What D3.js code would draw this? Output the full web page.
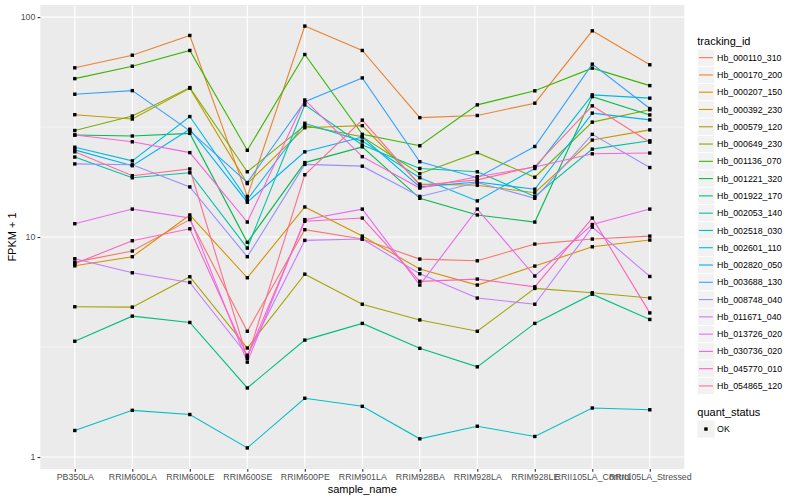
<!DOCTYPE html>
<html>
<head>
<meta charset="utf-8">
<script src="https://cdn.jsdelivr.net/npm/d3@7"></script>
<style>
  body { margin: 0; background: #fff; }
  text { font-family: "Liberation Sans", Arial, Helvetica, sans-serif; }
</style>
</head>
<body>
<svg id="chart" width="800" height="500"></svg>
<script>
// categories
const samples = ["PB350LA", "RRIM600LA", "RRIM600LE", "RRIM600SE", "RRIM600PE", "RRIM901LA",
  "RRIM928BA", "RRIM928LA", "RRIM928LE", "RRII105LA_Control", "RRII105LA_Stressed"];

const trackingIds = ["Hb_000110_310", "Hb_000170_200", "Hb_000207_150", "Hb_000392_230",
  "Hb_000579_120", "Hb_000649_230", "Hb_001136_070", "Hb_001221_320", "Hb_001922_170",
  "Hb_002053_140", "Hb_002518_030", "Hb_002601_110", "Hb_002820_050", "Hb_003688_130",
  "Hb_008748_040", "Hb_011671_040", "Hb_013726_020", "Hb_030736_020", "Hb_045770_010",
  "Hb_054865_120"];

// FPKM + 1 per sample
const hb_000110_310 = [7.69, 8.64, 12.0, 3.73, 10.8, 9.79, 7.94, 7.80, 9.29, 9.79, 10.1];
const hb_000170_200 = [58.8, 67.1, 82.5, 15.3, 91.0, 70.5, 34.9, 35.7, 40.6, 86.6, 60.7];
const hb_000207_150 = [7.40, 8.14, 12.6, 6.53, 13.7, 10.1, 7.15, 6.05, 7.38, 9.03, 9.69];
const hb_000392_230 = [36.0, 34.4, 47.5, 17.5, 31.4, 32.1, 17.4, 17.2, 15.9, 27.6, 30.7];
const hb_000579_120 = [4.82, 4.80, 6.60, 3.13, 6.78, 4.95, 4.20, 3.73, 5.84, 5.58, 5.28];
const hb_000649_230 = [30.5, 35.5, 47.8, 19.8, 32.1, 28.6, 19.4, 24.2, 18.7, 33.3, 37.9];
const hb_001136_070 = [52.5, 59.8, 70.5, 24.8, 67.6, 29.3, 26.0, 39.9, 46.2, 58.6, 48.8];
const hb_001221_320 = [29.1, 28.8, 29.6, 9.46, 21.8, 25.7, 15.0, 12.6, 11.7, 43.5, 35.9];
const hb_001922_170 = [3.36, 4.37, 4.09, 2.06, 3.40, 4.05, 3.12, 2.57, 4.05, 5.50, 4.22];
const hb_002053_140 = [23.1, 18.6, 19.6, 8.91, 39.9, 26.2, 20.5, 19.8, 15.3, 25.1, 27.4];
const hb_002518_030 = [1.32, 1.63, 1.56, 1.10, 1.85, 1.70, 1.21, 1.38, 1.24, 1.67, 1.64];
const hb_002601_110 = [25.6, 22.2, 35.3, 14.8, 32.9, 27.3, 18.6, 14.6, 20.5, 44.3, 42.8];
const hb_002820_050 = [24.9, 21.1, 30.9, 14.4, 24.4, 28.5, 16.9, 17.8, 16.5, 36.6, 34.1];
const hb_003688_130 = [44.6, 46.3, 30.4, 17.7, 41.2, 52.9, 22.0, 18.6, 25.8, 61.1, 38.4];
const hb_008748_040 = [21.5, 21.3, 16.9, 8.14, 21.4, 21.0, 15.3, 17.7, 15.0, 29.3, 20.7];
const hb_011671_040 = [7.97, 6.88, 6.22, 2.90, 9.66, 9.79, 6.81, 5.28, 4.95, 11.1, 6.62];
const hb_013726_020 = [11.5, 13.4, 12.2, 2.70, 12.0, 13.4, 6.05, 13.4, 6.65, 11.4, 13.4];
const hb_030736_020 = [29.1, 27.1, 24.2, 11.7, 42.0, 23.2, 16.7, 18.8, 20.8, 23.9, 24.1];
const hb_045770_010 = [7.57, 9.62, 10.9, 2.87, 11.8, 12.2, 6.29, 6.44, 5.94, 12.2, 4.52];
const hb_054865_120 = [24.4, 19.0, 20.4, 2.81, 19.2, 34.0, 17.2, 18.2, 20.9, 39.5, 27.0];

const seriesValues = [hb_000110_310, hb_000170_200, hb_000207_150, hb_000392_230,
  hb_000579_120, hb_000649_230, hb_001136_070, hb_001221_320, hb_001922_170,
  hb_002053_140, hb_002518_030, hb_002601_110, hb_002820_050, hb_003688_130,
  hb_008748_040, hb_011671_040, hb_013726_020, hb_030736_020, hb_045770_010,
  hb_054865_120];

const yTicks = [1, 10, 100];
const yMinor = [Math.sqrt(10), Math.sqrt(1000)];
const quantLevels = ["OK"];

// ggplot default hue palette for 20 levels
const palette = ["#F8766D", "#EA8331", "#D89000", "#C09B00", "#A3A500", "#7CAE00", "#39B600",
  "#00BB4E", "#00BF7D", "#00C1A3", "#00BFC4", "#00BAE0", "#00B0F6", "#35A2FF", "#9590FF",
  "#C77CFF", "#E76BF3", "#FA62DB", "#FF62BC", "#FF6C91"];

const panel = { left: 40.3, right: 684.3, top: 5, bottom: 469 };

const svg = d3.select("#chart");

const color = d3.scaleOrdinal().domain(trackingIds).range(palette);

const x = d3.scalePoint()
  .domain(samples)
  .range([panel.left, panel.right])
  .padding(0.6);

// log scale with ggplot's 5% expansion in log space
const allVals = seriesValues.flat();
const lo = Math.log10(d3.min(allVals)), hi = Math.log10(d3.max(allVals));
const ex = (hi - lo) * 0.05;
const y = d3.scaleLog()
  .domain([Math.pow(10, lo - ex), Math.pow(10, hi + ex)])
  .range([panel.bottom, panel.top]);

// panel background
svg.append("rect")
  .attr("x", panel.left).attr("y", panel.top)
  .attr("width", panel.right - panel.left)
  .attr("height", panel.bottom - panel.top)
  .attr("fill", "#EBEBEB");

const grid = svg.append("g");
grid.selectAll(".minor").data(yMinor).join("line")
  .attr("x1", panel.left).attr("x2", panel.right)
  .attr("y1", d => y(d)).attr("y2", d => y(d))
  .attr("stroke", "#fff").attr("stroke-width", 0.55);
grid.selectAll(".hmajor").data(yTicks).join("line")
  .attr("x1", panel.left).attr("x2", panel.right)
  .attr("y1", d => y(d)).attr("y2", d => y(d))
  .attr("stroke", "#fff").attr("stroke-width", 1.1);
grid.selectAll(".vmajor").data(samples).join("line")
  .attr("x1", d => x(d)).attr("x2", d => x(d))
  .attr("y1", panel.top).attr("y2", panel.bottom)
  .attr("stroke", "#fff").attr("stroke-width", 1.1);

// lines
const line = d3.line()
  .x((d, i) => x(samples[i]))
  .y(d => y(d));

svg.append("g").selectAll("path")
  .data(seriesValues)
  .join("path")
  .attr("d", line)
  .attr("fill", "none")
  .attr("stroke", (d, i) => color(trackingIds[i]))
  .attr("stroke-width", 1.1);

// points
const pts = [];
seriesValues.forEach(s => s.forEach((v, i) => pts.push({ s: samples[i], v })));
svg.append("g").selectAll("rect")
  .data(pts)
  .join("rect")
  .attr("x", d => x(d.s) - 1.7)
  .attr("y", d => y(d.v) - 1.7)
  .attr("width", 3.4).attr("height", 3.4)
  .attr("fill", "#000");

// axes
const xAxis = d3.axisBottom(x).tickSize(2.75).tickPadding(2.2);
const xAxisG = svg.append("g")
  .attr("transform", `translate(0,${panel.bottom})`)
  .call(xAxis);

const yAxis = d3.axisLeft(y).tickValues(yTicks).tickFormat(d3.format("d"))
  .tickSize(2.75).tickPadding(2.2);
const yAxisG = svg.append("g")
  .attr("transform", `translate(${panel.left},0)`)
  .call(yAxis);

[xAxisG, yAxisG].forEach(g => {
  g.select(".domain").remove();
  g.selectAll(".tick line").attr("stroke", "#333333").attr("stroke-width", 1.1);
  g.selectAll(".tick text").attr("fill", "#4D4D4D").style("font-size", "8.8px");
});

svg.append("text")
  .attr("x", (panel.left + panel.right) / 2)
  .attr("y", 493)
  .attr("text-anchor", "middle")
  .style("font-size", "11px")
  .text("sample_name");

svg.append("text")
  .attr("transform", `translate(16,${(panel.top + panel.bottom) / 2}) rotate(-90)`)
  .attr("text-anchor", "middle")
  .style("font-size", "11px")
  .text("FPKM + 1");

// legend: tracking_id
const keySize = 17.28;
const legX = 697.3;
const leg = svg.append("g");
leg.append("text")
  .attr("x", legX).attr("y", 44.5)
  .style("font-size", "11px")
  .text("tracking_id");

const items = leg.selectAll(".item").data(trackingIds).join("g")
  .attr("transform", (d, i) => `translate(${legX},${49 + i * keySize})`);
items.append("rect")
  .attr("width", keySize).attr("height", keySize)
  .attr("fill", "#F2F2F2").attr("stroke", "#fff").attr("stroke-width", 0.8);
items.append("line")
  .attr("x1", 1.7).attr("x2", keySize - 1.7)
  .attr("y1", keySize / 2).attr("y2", keySize / 2)
  .attr("stroke", d => color(d)).attr("stroke-width", 1.1);
items.append("text")
  .attr("x", keySize + 2.5).attr("y", keySize / 2 + 3.1)
  .style("font-size", "8.8px")
  .text(d => d);

// legend: quant_status
const leg2 = svg.append("g");
leg2.append("text")
  .attr("x", legX).attr("y", 415.5)
  .style("font-size", "11px")
  .text("quant_status");
const q = leg2.selectAll(".q").data(quantLevels).join("g")
  .attr("transform", (d, i) => `translate(${legX},${420.4 + i * keySize})`);
q.append("rect")
  .attr("width", keySize).attr("height", keySize)
  .attr("fill", "#F2F2F2");
q.append("rect")
  .attr("x", keySize / 2 - 1.7).attr("y", keySize / 2 - 1.7)
  .attr("width", 3.4).attr("height", 3.4)
  .attr("fill", "#000");
q.append("text")
  .attr("x", keySize + 2.5).attr("y", keySize / 2 + 3.1)
  .style("font-size", "8.8px")
  .text(d => d);
</script>
</body>
</html>
